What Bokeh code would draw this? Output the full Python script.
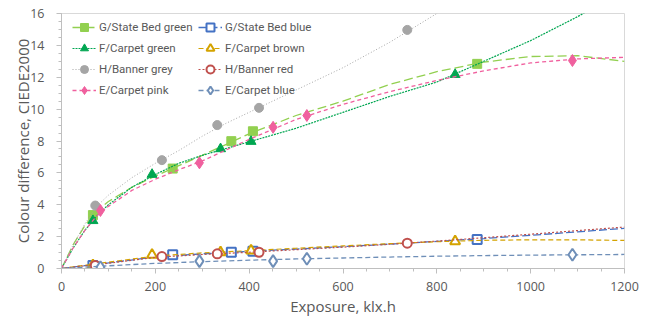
from bokeh.plotting import figure
from bokeh.models import Range1d, Legend, LegendItem, FixedTicker
from bokeh.embed import file_html
from bokeh.resources import INLINE

# ---- data ----
x_G = [67, 237, 362, 408, 886]
x_F = [67, 193, 339, 404, 839]
x_H = [72, 214, 332, 421, 737]
x_E = [83, 294, 451, 523, 1089]

y_G_green = [3.35, 6.27, 7.99, 8.61, 12.84]
y_G_blue = [0.19, 0.86, 1.02, 1.09, 1.82]
y_F_green = [3.0, 5.9, 7.51, 7.97, 12.17]
y_F_brown = [0.2, 0.86, 1.02, 1.13, 1.71]
y_H_grey = [3.95, 6.8, 9.0, 10.08, 14.97]
y_H_red = [0.19, 0.75, 0.92, 1.02, 1.59]
y_E_pink = [3.64, 6.63, 8.86, 9.6, 13.05]
y_E_blue = [0.08, 0.46, 0.46, 0.61, 0.86]

# trend lines
tx_hi = [0, 25, 50, 75, 100, 150, 200, 250, 300, 400, 500, 600, 700, 800, 900, 1000, 1100, 1200]
t_G_green = [0, 1.5, 2.7, 3.6, 4.2, 5.1, 5.8, 6.45, 7.1, 8.45, 9.6, 10.5, 11.55, 12.35, 12.95, 13.3, 13.35, 13.0]
t_F_green = [0, 1.3, 2.4, 3.3, 4.0, 5.1, 5.9, 6.6, 7.1, 7.95, 8.8, 9.8, 10.8, 11.7, 13.0, 14.3, 15.8, 17.5]
t_E_pink = [0, 1.3, 2.4, 3.3, 3.9, 4.9, 5.6, 6.2, 6.75, 8.1, 9.35, 10.3, 11.1, 11.8, 12.4, 12.9, 13.15, 13.25]
tx_grey = [0, 25, 50, 75, 100, 150, 200, 250, 300, 350, 400, 500, 600, 700, 800, 850]
t_H_grey = [0, 1.5, 2.8, 3.9, 4.6, 5.7, 6.6, 7.4, 8.3, 9.1, 9.8, 11.2, 12.6, 14.2, 16.0, 17.0]
tx_lo = [0, 50, 100, 200, 300, 400, 500, 600, 700, 800, 900, 1000, 1100, 1200]
t_G_blue = [0, 0.18, 0.35, 0.72, 0.92, 1.08, 1.22, 1.37, 1.53, 1.70, 1.88, 2.08, 2.3, 2.52]
t_F_brown = [0, 0.2, 0.4, 0.78, 0.98, 1.12, 1.27, 1.42, 1.56, 1.68, 1.77, 1.8, 1.8, 1.76]
t_H_red = [0, 0.17, 0.33, 0.7, 0.88, 1.02, 1.18, 1.34, 1.52, 1.72, 1.93, 2.15, 2.38, 2.6]
t_E_blue = [0, 0.08, 0.17, 0.32, 0.43, 0.52, 0.6, 0.66, 0.72, 0.77, 0.81, 0.84, 0.86, 0.88]

x_ticks = [0, 200, 400, 600, 800, 1000, 1200]
y_ticks = [0, 2, 4, 6, 8, 10, 12, 14, 16]

FONT = "Open Sans"
LFONT = "Roboto"
TXT = "#595959"

p = figure(width=654, height=327, output_backend="svg", toolbar_location=None,
           x_range=Range1d(0, 1200), y_range=Range1d(0, 16))
p.min_border_left = 61
p.min_border_right = 30
p.min_border_top = 13
p.min_border_bottom = 59
p.outline_line_color = "#d9d9d9"
p.xgrid.visible = False
p.ygrid.visible = False
p.background_fill_color = "white"
p.border_fill_color = "white"

series = [
    ("G/State Bed green", x_G, y_G_green, tx_hi, t_G_green, "#92d050", "square", 9, "9 4", 1.3),
    ("G/State Bed blue", x_G, y_G_blue, tx_lo, t_G_blue, "#4472c4", "square", 9, "8 3", 1.3),
    ("F/Carpet green", x_F, y_F_green, tx_hi, t_F_green, "#00a651", "triangle", 10, "2 1", 1.2),
    ("F/Carpet brown", x_F, y_F_brown, tx_lo, t_F_brown, "#d4a300", "triangle", 10, "5 3", 1.2),
    ("H/Banner grey", x_H, y_H_grey, tx_grey, t_H_grey, "#a5a5a5", "circle", 9, "1 2", 1.0),
    ("H/Banner red", x_H, y_H_red, tx_lo, t_H_red, "#c0504d", "circle", 9, "2 2", 1.2),
    ("E/Carpet pink", x_E, y_E_pink, tx_hi, t_E_pink, "#f0609e", "diamond", 12, "4 3", 1.3),
    ("E/Carpet blue", x_E, y_E_blue, tx_lo, t_E_blue, "#6f8fb8", "diamond", 12, "5 3", 1.3),
]
open_set = {"G/State Bed blue", "F/Carpet brown", "H/Banner red", "E/Carpet blue"}

items = []
for lab, xs, ys, tx, ty, col, mk, sz, dash, lw in series:
    ln = p.line(tx, ty, line_color=col, line_width=lw, line_dash=dash)
    if lab in open_set:
        sc = p.scatter(xs, ys, marker=mk, size=sz, line_color=col, line_width=2, fill_color="white")
    else:
        sc = p.scatter(xs, ys, marker=mk, size=sz, line_color=col, fill_color=col)
    items.append(LegendItem(label=lab, renderers=[ln, sc]))


def make_legend(its, loc):
    lg = Legend(items=its, location=loc, orientation="vertical")
    lg.background_fill_alpha = 0
    lg.border_line_alpha = 0
    lg.label_text_font = LFONT
    lg.label_text_font_size = "11.5px"
    lg.label_text_color = TXT
    lg.glyph_width = 24
    lg.glyph_height = 20
    lg.spacing = 1
    lg.label_standoff = 3
    lg.padding = 4
    lg.margin = 0
    return lg


p.add_layout(make_legend(items[0::2], (7, 164)), "center")
p.add_layout(make_legend(items[1::2], (133, 164)), "center")

for ax in (p.xaxis[0], p.yaxis[0]):
    ax.axis_line_color = "#bfbfbf"
    ax.major_tick_line_color = "#bfbfbf"
    ax.minor_tick_line_color = "#bfbfbf"
    ax.major_tick_out = 5
    ax.major_tick_in = 0
    ax.minor_tick_out = 3
    ax.minor_tick_in = 0
    ax.major_label_text_font = FONT
    ax.major_label_text_font_size = "12.5px"
    ax.major_label_text_color = TXT
    ax.axis_label_text_font = FONT
    ax.axis_label_text_font_style = "normal"
    ax.axis_label_text_color = TXT

p.xaxis.ticker = FixedTicker(ticks=x_ticks, minor_ticks=list(range(0, 1201, 50)))
p.yaxis.ticker = FixedTicker(ticks=y_ticks, minor_ticks=[i * 0.5 for i in range(33)])
p.xaxis.axis_label = "Exposure, klx.h"
p.yaxis.axis_label = "Colour difference, CIEDE2000"
p.xaxis.axis_label_text_font_size = "15px"
p.yaxis.axis_label_text_font_size = "15px"
p.xaxis.major_label_standoff = 8
p.yaxis.major_label_standoff = 12
p.xaxis.axis_label_standoff = 2
p.yaxis.axis_label_standoff = -6

open("out.html", "w").write(file_html(p, INLINE))
